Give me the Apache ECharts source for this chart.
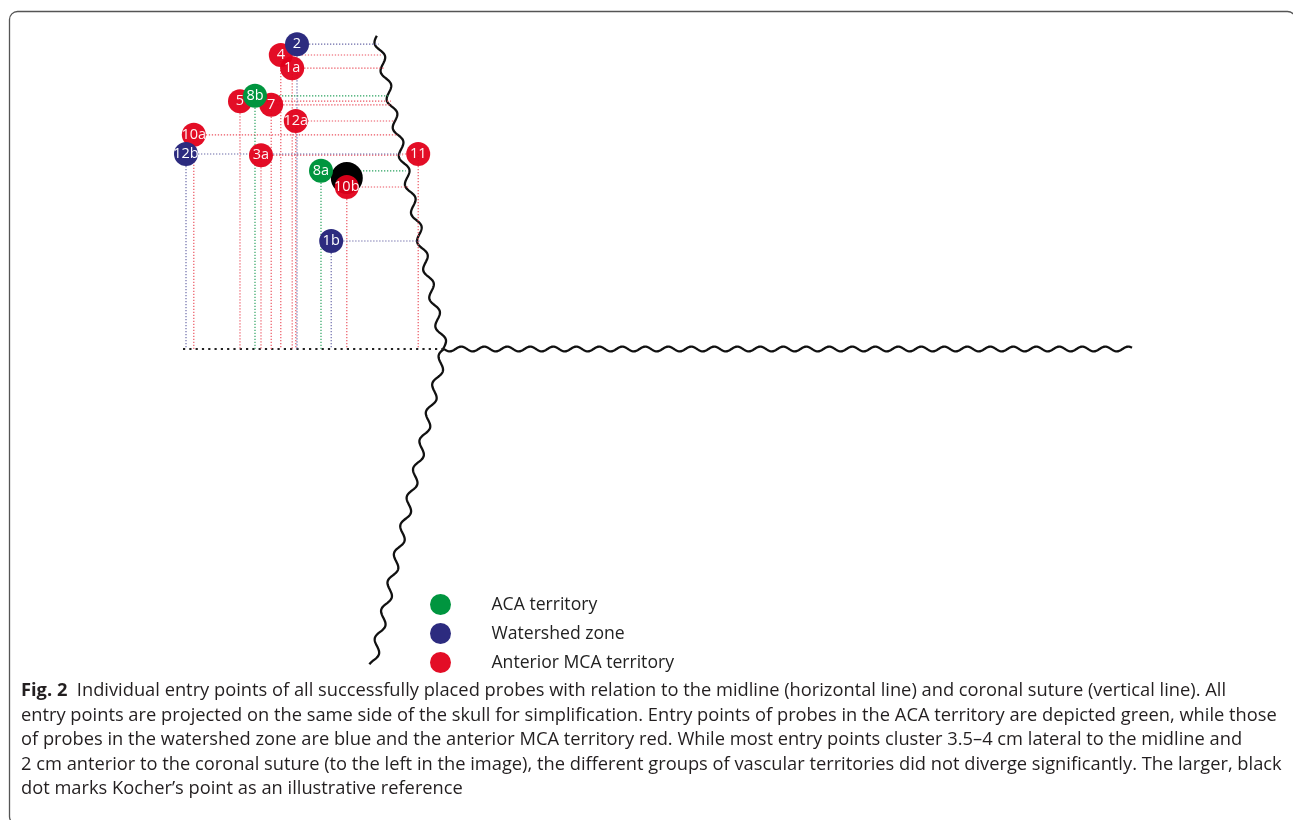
<!DOCTYPE html>
<html><head><meta charset="utf-8">
<script src="https://cdn.jsdelivr.net/npm/echarts@6/dist/echarts.min.js"></script>
<style>html,body{margin:0;padding:0;background:#fff}#c{width:1293px;height:820px}</style>
</head><body><div id="c"></div>
<script>
// Units: cm. x = anterior distance from the suture/midline crossing (positive = left, anterior),
// y = lateral distance from the midline (positive = up).
const acaNames = ['8b', '8a'];
const acaX = [3.15, 2.05];
const acaY = [4.22, 2.97];

const wsNames = ['2', '12b', '1b'];
const wsX = [2.45, 4.30, 1.88];
const wsY = [5.08, 3.25, 1.80];

const mcaNames = ['4', '1a', '5', '7', '12a', '10a', '3a', '11', '10b'];
const mcaX = [2.72, 2.53, 3.40, 2.88, 2.47, 4.17, 3.05, 0.43, 1.62];
const mcaY = [4.90, 4.68, 4.13, 4.07, 3.80, 3.57, 3.23, 3.25, 2.70];

const kocherPoint = [1.62, 2.85];

// suture / midline segments [x1, y1, x2, y2]
const coronalUpper = [1.12, 5.22, 0, 0];
const coronalLower = [0, 0, 1.19, -5.27];
const midlineWavy = [0, 0, -11.47, 0];
const midlineDotted = [4.35, 0, 0, 0];

const legendNames = ['ACA territory', 'Watershed zone', 'Anterior MCA territory'];

const captionLines = [
  '{b|Fig. 2}  Individual entry points of all successfully placed probes with relation to the midline (horizontal line) and coronal suture (vertical line). All',
  'entry points are projected on the same side of the skull for simplification. Entry points of probes in the ACA territory are depicted green, while those',
  'of probes in the watershed zone are blue and the anterior MCA territory red. While most entry points cluster 3.5\u20134 cm lateral to the midline and',
  '2 cm anterior to the coronal suture (to the left in the image), the different groups of vascular territories did not diverge significantly. The larger, black',
  'dot marks Kocher\u2019s point as an illustrative reference'
];

const GREEN = '#00953f', BLUE = '#2c2b7f', RED = '#e2001a';
const LINE_GREEN = '#2ba360', LINE_BLUE = '#6b6aa8', LINE_RED = '#ec5562';

function pts(xs, ys, names) { return xs.map((x, i) => [x, ys[i], names[i]]); }

function sutureXAt(y) {
  const s = y >= 0 ? coronalUpper : coronalLower;
  const t = (y - s[1]) / (s[3] - s[1]);
  return s[0] + t * (s[2] - s[0]);
}

const waveStyles = [
  { amp: 3.8, len: 29 },
  { amp: 3.8, len: 29 },
  { amp: 2.4, len: 23 }
];

function waveRender(params, api) {
  const p1 = api.coord([api.value(0), api.value(1)]);
  const p2 = api.coord([api.value(2), api.value(3)]);
  const dx = p2[0] - p1[0], dy = p2[1] - p1[1];
  const L = Math.sqrt(dx * dx + dy * dy);
  const ux = dx / L, uy = dy / L, nx = -uy, ny = ux;
  const ws = waveStyles[params.dataIndex];
  const points = [];
  for (let t = 0; t <= L; t += 1) {
    const o = ws.amp * Math.sin(2 * Math.PI * t / ws.len);
    points.push([p1[0] + ux * t + nx * o, p1[1] + uy * t + ny * o]);
  }
  return { type: 'polyline', shape: { points: points }, style: { stroke: '#111', lineWidth: 2.3, fill: null } };
}

function projRender(color) {
  return function (params, api) {
    const x = api.value(0), y = api.value(1);
    const p = api.coord([x, y]);
    const ph = api.coord([sutureXAt(y), y]);
    const pv = api.coord([x, 0]);
    const st = { stroke: color, lineWidth: 1.2, lineDash: [1.3, 1.7], fill: null };
    return {
      type: 'group', children: [
        { type: 'line', shape: { x1: p[0], y1: p[1], x2: ph[0], y2: ph[1] }, style: st },
        { type: 'line', shape: { x1: p[0], y1: p[1], x2: pv[0], y2: pv[1] }, style: st }
      ]
    };
  };
}

function dottedRender(params, api) {
  const p1 = api.coord([api.value(0), api.value(1)]);
  const p2 = api.coord([api.value(2), api.value(3)]);
  return { type: 'line', shape: { x1: p1[0], y1: p1[1], x2: p2[0], y2: p2[1] },
    style: { stroke: '#222', lineWidth: 2.2, lineDash: [2.2, 4.1], fill: null } };
}

const labelStyle = { show: true, position: 'inside', color: '#fff', fontSize: 14.5, fontFamily: 'Open Sans',
  formatter: p => p.data[2] };

function scatter(name, data, color, opacity) {
  return { type: 'scatter', name: name, data: data, symbolSize: 24, itemStyle: { color: color, opacity: opacity },
    label: labelStyle, emphasis: { disabled: true }, silent: true };
}

const chart = echarts.init(document.getElementById('c'), null, { renderer: 'canvas' });
chart.setOption({
  animation: false,
  backgroundColor: '#fff',
  grid: { left: 144, top: 19, width: 990, height: 660 },
  xAxis: { type: 'value', min: -11.5, max: 5, inverse: true, show: false },
  yAxis: { type: 'value', min: -5.5, max: 5.5, show: false },
  legend: {
    data: legendNames, orient: 'vertical', left: 425, top: 589, itemWidth: 92, itemHeight: 21, itemGap: 8,
    symbolKeepAspect: true, selectedMode: false,
    textStyle: { fontSize: 17.6, fontFamily: 'Open Sans', color: '#222' }
  },
  series: [
    { type: 'custom', name: 'sutures', renderItem: waveRender, data: [coronalUpper, coronalLower, midlineWavy],
      encode: { x: [0, 2], y: [1, 3] }, silent: true, z: 1 },
    { type: 'custom', name: 'midlineDotted', renderItem: dottedRender, data: [midlineDotted],
      encode: { x: [0, 2], y: [1, 3] }, silent: true, z: 1 },
    { type: 'custom', name: 'projRed', renderItem: projRender(LINE_RED), data: pts(mcaX, mcaY, mcaNames), silent: true, z: 1 },
    { type: 'custom', name: 'projBlue', renderItem: projRender(LINE_BLUE), data: pts(wsX, wsY, wsNames), silent: true, z: 1 },
    { type: 'custom', name: 'projGreen', renderItem: projRender(LINE_GREEN), data: pts(acaX, acaY, acaNames), silent: true, z: 1 },
    { type: 'scatter', name: 'Kocher', data: [kocherPoint], symbolSize: 32, itemStyle: { color: '#000', opacity: 1 },
      emphasis: { disabled: true }, silent: true, z: 2 },
    Object.assign(scatter(legendNames[2], pts(mcaX, mcaY, mcaNames), RED, 0.95), { z: 3 }),
    Object.assign(scatter(legendNames[1], pts(wsX, wsY, wsNames), BLUE, 1), { z: 4 }),
    Object.assign(scatter(legendNames[0], pts(acaX, acaY, acaNames), GREEN, 1), { z: 5 })
  ],
  graphic: [
    { type: 'rect', silent: true, shape: { x: 9.5, y: 11.5, width: 1286, height: 813, r: 8 },
      style: { stroke: '#555', lineWidth: 1.3, fill: null } }
  ].concat(captionLines.map((t, i) => ({
    type: 'text', silent: true, x: 21, y: 691 + i * 24.5,
    style: { text: t, fill: '#231f20', fontSize: 18.3, fontFamily: 'Open Sans', verticalAlign: 'middle',
      rich: { b: { fontWeight: 'bold', fontSize: 18.3, fontFamily: 'Open Sans', fill: '#231f20' } } }
  })))
});
</script></body></html>
